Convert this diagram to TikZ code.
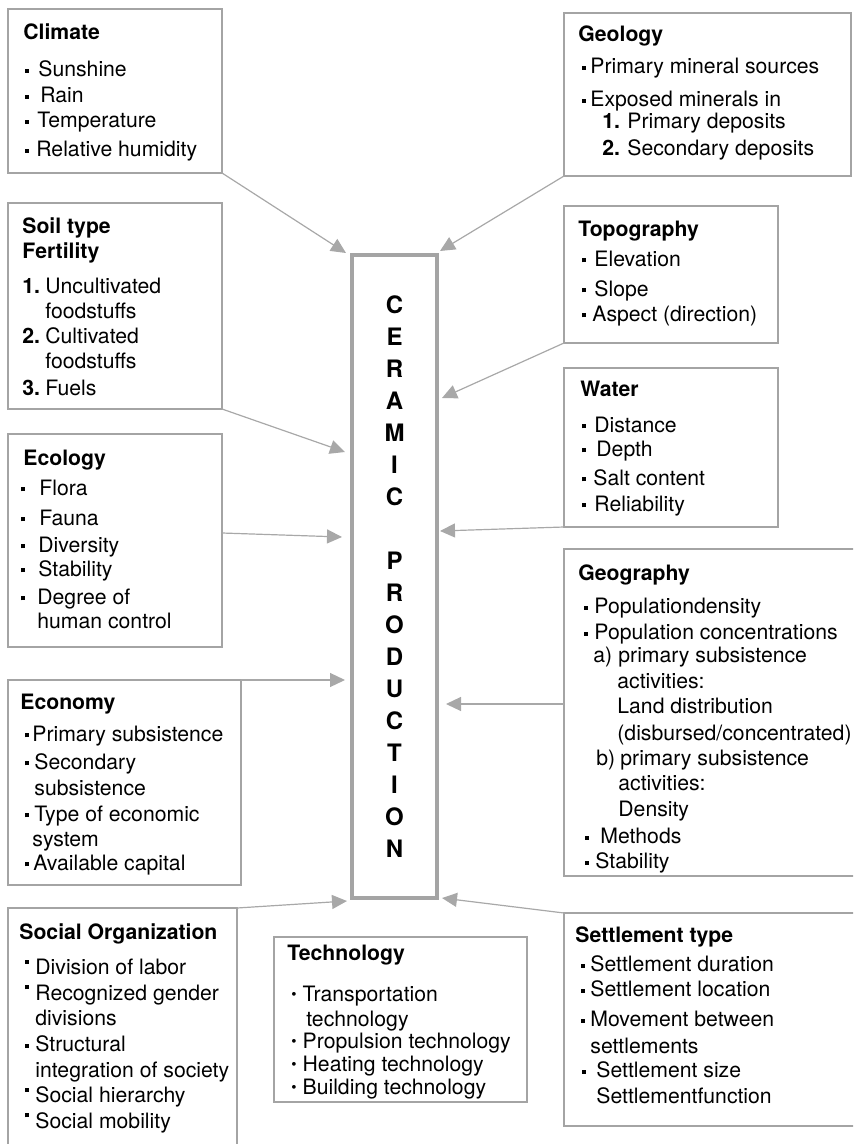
\documentclass[tikz,border=0pt]{standalone}
\usepackage{fontspec}
\setmainfont{TeX Gyre Heros}
\usetikzlibrary{arrows.meta}
\definecolor{framegray}{HTML}{A4A4A4}
\definecolor{arrowgray}{HTML}{A8A8A8}
\newcommand{\sq}[1][3.5pt]{\rule[2pt]{2pt}{2pt}\hspace*{#1}}
\newcommand{\hisq}[1][3.5pt]{\rule[5.5pt]{2pt}{2pt}\hspace*{#1}}
\newcommand{\rdot}[1][3pt]{\raisebox{0.9pt}{\fontsize{7.5}{7.5}\selectfont\textbullet}\hspace*{#1}}
\tikzset{
  box/.style={draw=framegray,line width=0.6pt,anchor=north west,inner sep=0pt,outer sep=0pt},
  txt/.style={anchor=north west,inner sep=0pt,align=left,font=\fontsize{10.6}{12.5}\selectfont},
  core/.style={draw=framegray,line width=2pt,inner sep=0pt,minimum width=42.5pt,minimum height=321.5pt,
    align=center,font=\bfseries\fontsize{12}{16}\selectfont},
  feed/.style={draw=arrowgray,line width=0.6pt,-{Triangle[length=7.5pt,width=7pt]}},
}
\begin{document}
\begin{tikzpicture}[x=0.5pt,y=-0.5pt]
\useasboundingbox (0,0) rectangle (853,1144);
\clip (0,0) rectangle (853,1144);
% centre
\node[core] (cp) at (394.5,576.5) {C\\E\\R\\A\\M\\I\\C\\[16pt]P\\R\\O\\D\\U\\C\\T\\I\\O\\N};
% left column
\node[box,minimum width=107pt,minimum height=82pt] (climate) at (8,9) {};
\node[box,minimum width=107pt,minimum height=103pt] (soil) at (8,203) {};
\node[box,minimum width=107pt,minimum height=106.5pt] (ecology) at (8,434) {};
\node[box,minimum width=116.5pt,minimum height=102.5pt] (economy) at (8,680) {};
\node[box,minimum width=114.5pt,minimum height=120pt] (social) at (8,908) {};
\node[box,minimum width=126.5pt,minimum height=82.5pt] (tech) at (274,937) {};
% right column
\node[box,minimum width=143.5pt,minimum height=81.5pt] (geology) at (564,13) {};
\node[box,minimum width=107pt,minimum height=68.5pt] (topo) at (564,206) {};
\node[box,minimum width=107pt,minimum height=79.5pt] (water) at (564,368) {};
\node[box,minimum width=150pt,minimum height=163.5pt] (geography) at (564,549) {};
\node[box,minimum width=150pt,minimum height=106.5pt] (settle) at (564,913) {};

\node[txt] (climate-t) at (23,23.5) {\textbf{Climate}\\[6pt]
  \hspace*{1pt}\sq[4.5pt]Sunshine\\[0.5pt]
  \hspace*{1pt}\sq[5.5pt]Rain\\
  \hspace*{1pt}\sq[4pt]Temperature\\[2pt]
  \hspace*{1pt}\sq[3.5pt]Relative humidity};
\node[txt] (soil-t) at (22,217.5) {\textbf{Soil type}\\
  \textbf{Fertility}\\[5pt]
  \makebox[11.5pt][l]{\textbf{1.}}Uncultivated\\
  \hspace*{11.5pt}foodstuffs\\
  \makebox[11.5pt][l]{\textbf{2.}}Cultivated\\
  \hspace*{11.5pt}foodstuffs\\[1pt]
  \makebox[11.5pt][l]{\textbf{3.}}Fuels};
\node[txt] (ecology-t) at (23,449.5) {\textbf{Ecology}\\[2.5pt]
  \hspace*{-1pt}\sq[7pt]Flora\\[2.5pt]
  \hspace*{-1pt}\sq[7pt]Fauna\\[1pt]
  \hspace*{-1pt}\sq[6.5pt]Diversity\\[-0.5pt]
  \hspace*{-1pt}\sq[6.5pt]Stability\\[1.5pt]
  \hspace*{-1pt}\sq[6pt]Degree of\\[-0.5pt]
  \hspace*{7pt}human control};
\node[txt] (economy-t) at (20,693.5) {\textbf{Economy}\\[3.5pt]
  \hspace*{2.5pt}\sq[1.5pt]Primary subsistence\\[1.5pt]
  \hspace*{2.5pt}\sq[2.5pt]Secondary\\[0.5pt]
  \hspace*{7pt}subsistence\\[0.5pt]
  \hspace*{2.5pt}\sq[2.5pt]Type of economic\\
  \hspace*{6pt}system\\[-0.5pt]
  \hspace*{2.5pt}\sq[2pt]Available capital};
\node[txt] (social-t) at (19,923.5) {\textbf{Social Organization}\\[5pt]
  \hspace*{3pt}\hisq[3pt]Division of labor\\[0.3pt]
  \hspace*{3pt}\hisq[3pt]Recognized gender\\[0.3pt]
  \hspace*{8pt}divisions\\[0.3pt]
  \hspace*{3pt}\sq[3pt]Structural\\[0.3pt]
  \hspace*{8pt}integration of society\\[0.3pt]
  \hspace*{3pt}\hisq[3pt]Social hierarchy\\[0.3pt]
  \hspace*{3pt}\hisq[3pt]Social mobility};
\node[txt] (tech-t) at (287,944.5) {\textbf{Technology}\\[8pt]
  \hspace*{2pt}\rdot Transportation\\
  \hspace*{9.5pt}technology\\[-1.5pt]
  \hspace*{2pt}\rdot Propulsion technology\\[-1pt]
  \hspace*{2pt}\rdot Heating technology\\[-1pt]
  \hspace*{2pt}\rdot Building technology};
\node[txt] (geology-t) at (578,25.5) {\textbf{Geology}\\[3.5pt]
  \hspace*{2pt}\sq[2pt]Primary mineral sources\\[4pt]
  \hspace*{2pt}\sq[2pt]Exposed minerals in\\[-1.5pt]
  \hspace*{12pt}\makebox[12.5pt][l]{\textbf{1.}}Primary deposits\\[1pt]
  \hspace*{12pt}\makebox[12.5pt][l]{\textbf{2.}}Secondary deposits};
\node[txt] (topo-t) at (578,220.5) {\textbf{Topography}\\[2.5pt]
  \hspace*{2pt}\sq[4pt]Elevation\\[2.5pt]
  \hspace*{2pt}\sq[4pt]Slope\\
  \hspace*{2pt}\sq[3pt]Aspect (direction)};
\node[txt] (water-t) at (580,380.5) {\textbf{Water}\\[5.5pt]
  \hspace*{1pt}\sq[4pt]Distance\\[-0.5pt]
  \hspace*{1pt}\sq[5pt]Depth\\[2pt]
  \hspace*{1pt}\sq[3.5pt]Salt content\\[0.5pt]
  \hspace*{1pt}\sq[4pt]Reliability};
\node[txt] (geography-t) at (578,564.5) {\textbf{Geography}\\[4pt]
  \hspace*{3pt}\sq[3pt]Populationdensity\\[0.5pt]
  \hspace*{3pt}\sq[3pt]Population concentrations\\[-1pt]
  \hspace*{7.5pt}\makebox[12.5pt][l]{a)}primary subsistence\\[0.5pt]
  \hspace*{19.5pt}activities:\\
  \hspace*{19.5pt}Land distribution\\[1pt]
  \hspace*{19.5pt}(disbursed/concentrated)\\
  \hspace*{9pt}\makebox[12pt][l]{b)}primary subsistence\\
  \hspace*{20pt}activities:\\[0.5pt]
  \hspace*{20pt}Density\\[1pt]
  \hspace*{3.5pt}\sq[5.5pt]Methods\\
  \hspace*{3.5pt}\sq[3pt]Stability};
\node[txt] (settle-t) at (575,926.5) {\textbf{Settlement type}\\[2pt]
  \hspace*{3pt}\sq[2.5pt]Settlement duration\\
  \hspace*{3pt}\sq[2.5pt]Settlement location\\[2.5pt]
  \hspace*{3pt}\sq[2.5pt]Movement between\\[1pt]
  \hspace*{7.5pt}settlements\\[-0.5pt]
  \hspace*{3.5pt}\sq[5pt]Settlement size\\[0.5pt]
  \hspace*{10.5pt}Settlementfunction};

% arrow ends at the centre box
\coordinate (in-climate) at (346,253);
\coordinate (in-soil) at (345,452);
\coordinate (in-ecology) at (342,537);
\coordinate (in-economy) at (345,680);
\coordinate (in-social) at (347,901);
\coordinate (in-geology) at (440,251);
\coordinate (in-topo) at (442,398);
\coordinate (in-water) at (440,531);
\coordinate (in-geography) at (446,704);
\coordinate (in-settle) at (442,898);

\draw[feed] (climate.south east) -- (in-climate);
\draw[feed] (soil.south east) -- (in-soil);
\draw[feed] ([yshift=3.75pt]ecology.east) -- (in-ecology);
\draw[feed] (economy.north east) -- (in-economy);
\draw[feed] (social.north east) -- (in-social);
\draw[feed] (geology.south west) -- (in-geology);
\draw[feed] (topo.south west) -- (in-topo);
\draw[feed] (water.south west) -- (in-water);
\draw[feed] ([yshift=4.25pt]geography.west) -- (in-geography);
\draw[feed] (settle.north west) -- (in-settle);
\end{tikzpicture}
\end{document}
